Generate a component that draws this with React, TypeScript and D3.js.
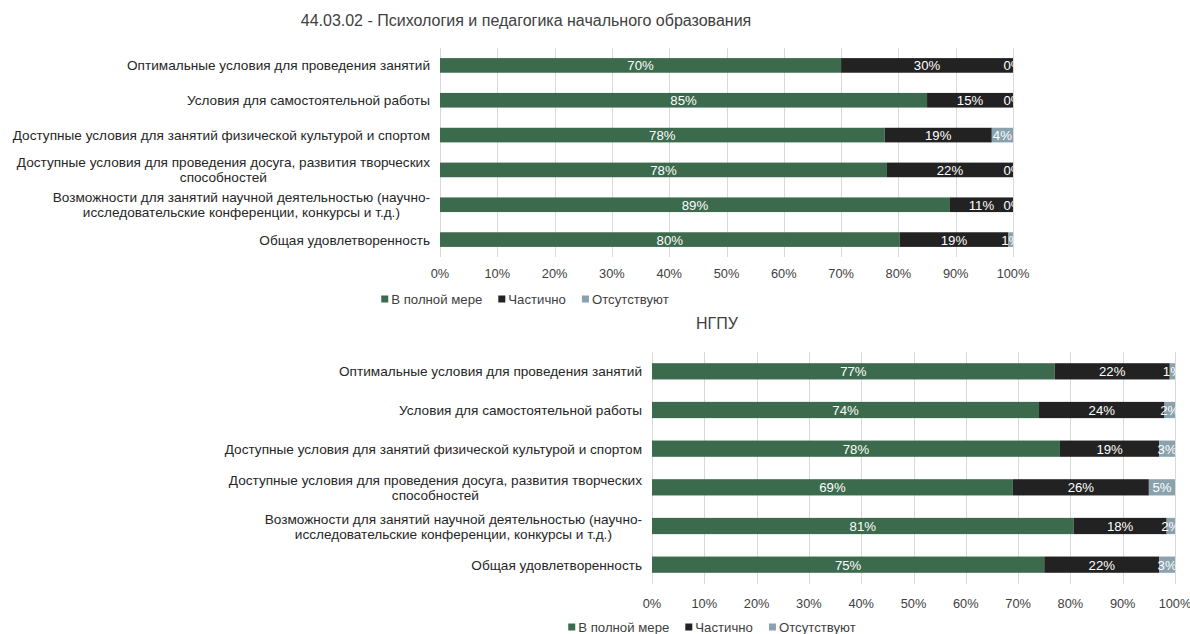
import React, { useEffect, useRef } from 'react';
import * as d3 from 'd3';

// categories (line breaks where the original wraps them)
const categories = [
  'Оптимальные условия для проведения занятий',
  'Условия для самостоятельной работы',
  'Доступные условия для занятий физической культурой и спортом',
  'Доступные условия для проведения досуга, развития творческих\nспособностей',
  'Возможности для занятий научной деятельностью (научно-\nисследовательские конференции, конкурсы и т.д.)',
  'Общая удовлетворенность',
];

const seriesNames = ['В полной мере', 'Частично', 'Отсутствуют'];
const seriesColors = ['#3b6a4d', '#222222', '#8aa1ae'];

// 44.03.02 (%)
const programFull = [70, 85, 77.6, 78, 89, 80.2];
const programPartial = [30, 15, 18.7, 22, 11, 19];
const programAbsent = [0, 0, 3.7, 0, 0, 0.8];

// НГПУ (%)
const univFull = [77, 74, 78, 69, 80.6, 75];
const univPartial = [22, 24, 19, 26, 17.8, 22];
const univAbsent = [1, 2, 3, 5, 1.6, 3];

const xTicks = [0, 10, 20, 30, 40, 50, 60, 70, 80, 90, 100];

const programTitle = '44.03.02 - Психология и педагогика начального образования';
const univTitle = 'НГПУ';

const FONT = '"Liberation Sans", Arial, sans-serif';
const TEXT = '#404040';
const CAT_SIZE = 13.6;
const SMALL_SIZE = 13.2;
const TICK_SIZE = 12.8;
const TITLE_SIZE = 16;

type Layout = {
  id: string;
  x0: number; x1: number; y0: number; y1: number;
  titleX: number; titleY: number;
  tickY: number; legendY: number; legendCx: number;
};

function drawChart(root: any, title: string, series: number[][], L: Layout) {
  const g = root.append('g');

  const x = d3.scaleLinear().domain([0, 100]).range([L.x0, L.x1]);
  const y = d3.scaleBand<number>()
    .domain(d3.range(categories.length))
    .range([L.y0, L.y1])
    .paddingInner(0.58)
    .paddingOuter(0.29);

  // title
  g.append('text')
    .attr('x', L.titleX).attr('y', L.titleY)
    .attr('text-anchor', 'middle').attr('dominant-baseline', 'central')
    .attr('font-size', TITLE_SIZE).attr('fill', TEXT)
    .text(title);

  // gridlines
  g.append('g').selectAll('line')
    .data(xTicks).enter().append('line')
    .attr('x1', (d: number) => Math.round(x(d)) + 0.5)
    .attr('x2', (d: number) => Math.round(x(d)) + 0.5)
    .attr('y1', L.y0).attr('y2', L.y1)
    .attr('stroke', '#d9d9d9').attr('stroke-width', 1);

  // tick labels
  g.append('g').selectAll('text')
    .data(xTicks).enter().append('text')
    .attr('x', (d: number) => x(d)).attr('y', L.tickY)
    .attr('text-anchor', 'middle').attr('dominant-baseline', 'central')
    .attr('font-size', TICK_SIZE).attr('fill', TEXT)
    .text((d: number) => d + '%');

  // stacked bars
  const rows = categories.map((c, i) => {
    let acc = 0;
    return series.map((s, k) => {
      const seg = { i, k, start: acc, end: acc + s[i], v: s[i] };
      acc += s[i];
      return seg;
    });
  });
  const segs = rows.flat();

  g.append('g').selectAll('rect')
    .data(segs).enter().append('rect')
    .attr('x', (d: any) => x(d.start))
    .attr('width', (d: any) => Math.max(0, x(d.end) - x(d.start)))
    .attr('y', (d: any) => y(d.i))
    .attr('height', y.bandwidth())
    .attr('fill', (d: any) => seriesColors[d.k]);

  // data labels, clipped at the plot edge
  const clipId = 'clip-' + L.id;
  root.append('clipPath').attr('id', clipId)
    .append('rect')
    .attr('x', L.x0).attr('y', L.y0 - 5)
    .attr('width', L.x1 - L.x0 + 0.5).attr('height', L.y1 - L.y0 + 10);

  g.append('g').attr('clip-path', `url(#${clipId})`)
    .selectAll('text')
    .data(segs).enter().append('text')
    .attr('x', (d: any) => (x(d.start) + x(d.end)) / 2)
    .attr('y', (d: any) => (y(d.i) as number) + y.bandwidth() / 2 + 0.5)
    .attr('text-anchor', 'middle').attr('dominant-baseline', 'central')
    .attr('font-size', SMALL_SIZE).attr('fill', '#ffffff')
    .text((d: any) => Math.round(d.v) + '%');

  // category labels: block right-aligned, lines centred inside the block
  const lineH = 15;
  categories.forEach((c, i) => {
    const lines = c.split('\n');
    const cy = (y(i) as number) + y.bandwidth() / 2;
    const txt = g.append('text')
      .attr('font-size', CAT_SIZE).attr('fill', '#262626')
      .attr('text-anchor', 'middle').attr('dominant-baseline', 'central');
    const spans = lines.map((ln, j) => txt.append('tspan')
      .attr('y', cy + (j - (lines.length - 1) / 2) * lineH)
      .text(ln));
    const w = d3.max(spans, (s: any) => s.node().getComputedTextLength()) as number;
    const cx = L.x0 - 10 - w / 2;
    spans.forEach((s: any) => s.attr('x', cx));
  });

  // legend
  const leg = g.append('g');
  let lx = 0;
  seriesNames.forEach((name, k) => {
    const it = leg.append('g').attr('transform', `translate(${lx},0)`);
    it.append('rect')
      .attr('x', 0).attr('y', L.legendY - 3.5)
      .attr('width', 7).attr('height', 7)
      .attr('fill', seriesColors[k]);
    const t = it.append('text')
      .attr('x', 10).attr('y', L.legendY)
      .attr('dominant-baseline', 'central')
      .attr('font-size', SMALL_SIZE).attr('fill', TEXT)
      .text(name);
    lx += 10 + t.node().getComputedTextLength() + 16;
  });
  const legW = lx - 16;
  leg.attr('transform', `translate(${L.legendCx - legW / 2},0)`);
}

export default function App() {
  const ref = useRef<SVGSVGElement>(null);

  useEffect(() => {
    const svg = d3.select(ref.current);
    svg.selectAll('*').remove();
    const root = svg.append('g').attr('font-family', FONT);

    drawChart(root, programTitle, [programFull, programPartial, programAbsent], {
      id: 'program',
      x0: 440, x1: 1013, y0: 48, y1: 257,
      titleX: 526, titleY: 20,
      tickY: 273, legendY: 299, legendCx: 525,
    });

    drawChart(root, univTitle, [univFull, univPartial, univAbsent], {
      id: 'univ',
      x0: 652, x1: 1175, y0: 352, y1: 584,
      titleX: 717, titleY: 323,
      tickY: 603, legendY: 627, legendCx: 712,
    });
  }, []);

  return (
    <svg
      ref={ref}
      width={1190}
      height={634}
      style={{ position: 'absolute', left: 0, top: 0, background: '#ffffff' }}
    />
  );
}
